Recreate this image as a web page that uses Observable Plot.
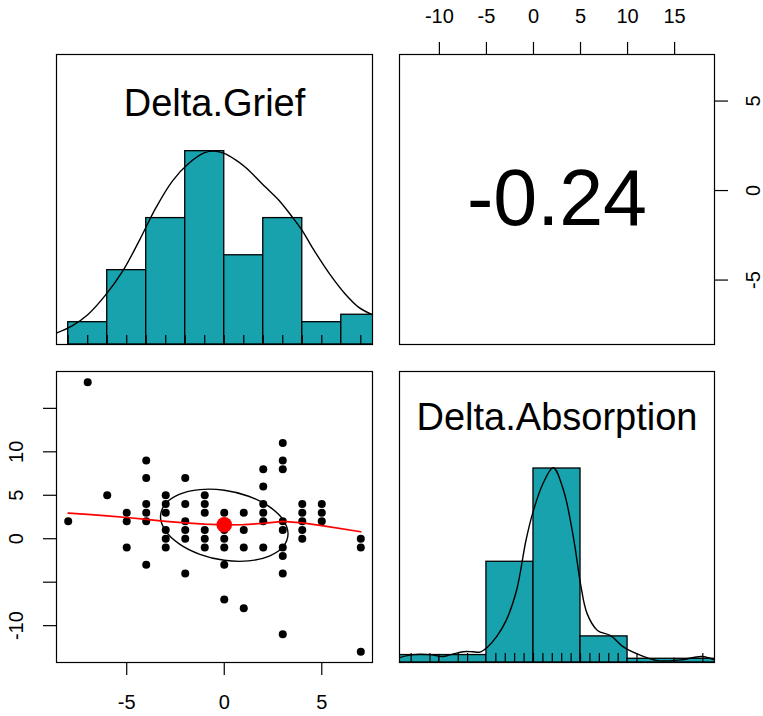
<!DOCTYPE html>
<html>
<head>
<meta charset="utf-8">
<script src="https://cdn.jsdelivr.net/npm/d3@7"></script>
<script src="https://cdn.jsdelivr.net/npm/@observablehq/plot@0.6"></script>
<style>
  html, body { margin: 0; padding: 0; background: #ffffff; }
  #chart { position: relative; width: 763px; height: 716px; overflow: hidden; background: #ffffff; }
  #chart svg { display: block; }
</style>
</head>
<body>
<div id="chart"></div>
<script>
// ---------------- data ----------------
const variables = ["Delta.Grief", "Delta.Absorption"];
const correlation = "-0.24";

// scatter (visible, distinct points): x = Delta.Grief, y = Delta.Absorption
const griefX = [
  -8, -7, -6,
  -5, -5, -5,
  -4, -4, -4, -4, -4, -4,
  -3, -3, -3, -3, -3, -3,
  -2, -2, -2, -2, -2, -2,
  -1, -1, -1, -1, -1, -1,
  0, 0, 0, 0, 0, 0,
  1, 1, 1, 1,
  2, 2, 2, 2, 2, 2,
  3, 3, 3, 3, 3, 3, 3, 3, 3,
  4, 4, 4, 4, 4,
  5, 5, 5,
  7, 7, 7
];
const absorptionY = [
  2, 18, 5,
  3, 2, -1,
  9, 7, 4, 3, 2, -3,
  5, 4, 3, 1, 0, -1,
  7, 4, 2, 1, 0, -4,
  5, 4, 3, 1, 0, -1,
  3, 1, 0, -1, -3, -7,
  3, 1, -1, -8,
  8, 6, 4, 3, 2, -1,
  11, 9, 8, 2, 1, -1, -2, -4, -11,
  4, 3, 2, 1, 0,
  4, 3, 2,
  0, -1, -13
];

// means (red dot)
const meanGrief = [0.0];
const meanAbsorption = [1.6];

// lowess smoother (red line)
const lowessX = [-8, -7, -6, -5, -4, -3, -2, -1, 0, 1, 2, 3, 4, 5, 7];
const lowessY = [2.95, 2.8, 2.62, 2.44, 2.22, 2.0, 1.82, 1.67, 1.6, 1.63, 1.76, 2.0, 1.82, 1.5, 0.8];

// correlation ellipse outline (closed)
const ellipseX = [3.27, 3.02, 2.31, 1.25, 0, -1.25, -2.31, -3.02, -3.27, -3.02, -2.31, -1.25, 0, 1.25, 2.31, 3.02];
const ellipseY = [0.55, -0.91, -2.0, -2.55, -2.48, -1.79, -0.59, 0.93, 2.55, 4.01, 5.10, 5.65, 5.58, 4.89, 3.69, 2.17];

// histograms
const griefBreaks = [-8, -6, -4, -2, 0, 2, 4, 6, 8];
const griefCounts = [3, 10, 17, 26, 12, 17, 3, 4];
const absorptionBreaks = [-15, -10, -5, 0, 5, 10, 15, 20];
const absorptionCounts = [2, 2, 27, 52, 7, 1, 1];

// density curves (in histogram count units)
const griefDensX = [-8.64, -7.8, -7.0, -6.1, -5.2, -4.35, -3.5, -2.65, -1.8, -1.0, -0.5, 0, 0.6, 1.1, 2.1, 2.8, 3.5, 4.0, 4.5, 5.4, 6.2, 6.9, 7.6];
const griefDensY = [1.5, 2.5, 4.0, 6.6, 9.9, 14.0, 18.4, 22.0, 24.4, 25.8, 26.0, 25.7, 24.8, 23.8, 21.2, 19.4, 17.1, 15.3, 13.1, 9.5, 6.8, 5.0, 4.0];
const absDensX = [-14.24, -12.8, -11.0, -9.6, -8.5, -7.5, -6.5, -5.7, -4.9, -3.9, -2.9, -1.8, -0.8, -0.1, 1.0, 2.1, 3.2, 4.3, 5.0, 5.7, 6.8, 8.2, 9.6, 11.4, 13.2, 15.6, 17.9, 19.24];
const absDensY = [1.3, 2.1, 2.1, 1.6, 2.3, 2.9, 2.9, 2.8, 4.1, 7.0, 11.3, 19.3, 32.7, 39.9, 47.9, 52.2, 46.1, 32.7, 21.1, 13.1, 8.6, 7.2, 4.1, 1.9, 0.5, 0.7, 1.6, 0.7];

// axis ticks and labels
const griefTicks = [-5, 0, 5];
const absorptionTicksTop = [-10, -5, 0, 5, 10, 15];
const absorptionTicksLeft = [-10, -5, 0, 5, 10, 15];
const absorptionLabelsLeft = [-10, 0, 5, 10];

// ---------------- build tables ----------------
const FONT = '"Liberation Sans", Arial, Helvetica, sans-serif';
const HIST = "#17a2ae";

const points = griefX.map((x, i) => ({x, y: absorptionY[i]}));
const meanPt = meanGrief.map((x, i) => ({x, y: meanAbsorption[i]}));
const lowess = lowessX.map((x, i) => ({x, y: lowessY[i]}));
const ellipse = ellipseX.map((x, i) => ({x, y: ellipseY[i]}));
const griefBins = griefCounts.map((c, i) => ({x1: griefBreaks[i], x2: griefBreaks[i + 1], count: c}));
const absBins = absorptionCounts.map((c, i) => ({x1: absorptionBreaks[i], x2: absorptionBreaks[i + 1], count: c}));
const griefDens = griefDensX.map((x, i) => ({x, y: griefDensY[i]}));
const absDens = absDensX.map((x, i) => ({x, y: absDensY[i]}));
const rugGrief = Array.from(new Set(griefX)).sort(d3.ascending);
const rugAbs = Array.from(new Set(absorptionY)).sort(d3.ascending);

function padded(values) {
  const [a, b] = d3.extent(values);
  const p = 0.04 * (b - a);
  return [a - p, b + p];
}
const griefDomain = padded(griefX);
const absDomain = padded(absorptionY);

const chart = document.getElementById("chart");
function place(svg, left, top) {
  svg.style.position = "absolute";
  svg.style.left = left + "px";
  svg.style.top = top + "px";
  chart.appendChild(svg);
}
const baseStyle = {background: "transparent", fontFamily: FONT, color: "black"};

// ---------------- top-left: Delta.Grief histogram ----------------
place(Plot.plot({
  width: 390, height: 358,
  marginTop: 54, marginLeft: 56, marginRight: 18, marginBottom: 14,
  style: baseStyle,
  x: {domain: griefDomain, axis: null},
  y: {domain: [0, 1.5 * d3.max(griefCounts)], axis: null},
  marks: [
    Plot.rectY(griefBins, {x1: "x1", x2: "x2", y: "count", fill: HIST, stroke: "black", strokeWidth: 1.3, clip: true}),
    Plot.ruleX(rugGrief, {x: d => d, insetTop: 281, stroke: "black", strokeWidth: 1.2}),
    Plot.line(griefDens, {x: "x", y: "y", curve: "catmull-rom", stroke: "black", strokeWidth: 1.4, clip: true}),
    Plot.text([variables[0]], {text: d => d, frameAnchor: "top", dy: 49.5, lineAnchor: "middle", fontSize: 38, fill: "black"}),
    Plot.frame({stroke: "black", strokeWidth: 1.2})
  ]
}), 0, 0);

// ---------------- top-right: correlation ----------------
place(Plot.plot({
  width: 373, height: 358,
  marginTop: 54, marginLeft: 9, marginRight: 49, marginBottom: 14,
  style: baseStyle,
  x: {domain: absDomain},
  y: {domain: griefDomain},
  marks: [
    Plot.axisX(absorptionTicksTop, {anchor: "top", tickSize: 13, tickFormat: () => "", label: null, stroke: "black", strokeWidth: 1.2}),
    Plot.axisY(griefTicks, {anchor: "right", tickSize: 13, tickFormat: () => "", label: null, stroke: "black", strokeWidth: 1.2}),
    Plot.text(absorptionTicksTop, {x: d => d, text: d => String(d), frameAnchor: "top", dy: -38, lineAnchor: "middle", fontSize: 20, fill: "black"}),
    Plot.text(griefTicks, {y: d => d, text: d => String(d), frameAnchor: "right", dx: 39, rotate: -90, textAnchor: "middle", lineAnchor: "middle", fontSize: 20, fill: "black"}),
    Plot.text([correlation], {text: d => d, frameAnchor: "middle", lineAnchor: "middle", fontSize: 79, fill: "black"}),
    Plot.frame({stroke: "black", strokeWidth: 1.2})
  ]
}), 390, 0);

// ---------------- bottom-left: scatter ----------------
place(Plot.plot({
  width: 390, height: 358,
  marginTop: 13, marginLeft: 56, marginRight: 18, marginBottom: 54,
  style: baseStyle,
  x: {domain: griefDomain},
  y: {domain: absDomain},
  marks: [
    Plot.axisX(griefTicks, {anchor: "bottom", tickSize: 13, tickFormat: () => "", label: null, stroke: "black", strokeWidth: 1.2}),
    Plot.axisY(absorptionTicksLeft, {anchor: "left", tickSize: 13, tickFormat: () => "", label: null, stroke: "black", strokeWidth: 1.2}),
    Plot.text(griefTicks, {x: d => d, text: d => String(d), frameAnchor: "bottom", dy: 40.5, lineAnchor: "middle", fontSize: 20, fill: "black"}),
    Plot.text(absorptionLabelsLeft, {y: d => d, text: d => String(d), frameAnchor: "left", dx: -40, rotate: -90, textAnchor: "middle", lineAnchor: "middle", fontSize: 20, fill: "black"}),
    Plot.dot(points, {x: "x", y: "y", r: 4, fill: "black"}),
    Plot.line(ellipse, {x: "x", y: "y", curve: "catmull-rom-closed", stroke: "black", strokeWidth: 1.4}),
    Plot.line(lowess, {x: "x", y: "y", stroke: "#ff0000", strokeWidth: 1.7}),
    Plot.dot(meanPt, {x: "x", y: "y", r: 7.8, fill: "#ff0000"}),
    Plot.frame({stroke: "black", strokeWidth: 1.2})
  ]
}), 0, 358);

// ---------------- bottom-right: Delta.Absorption histogram ----------------
place(Plot.plot({
  width: 373, height: 358,
  marginTop: 13, marginLeft: 9, marginRight: 49, marginBottom: 54,
  style: baseStyle,
  x: {domain: absDomain, axis: null},
  y: {domain: [0, 1.5 * d3.max(absorptionCounts)], axis: null},
  marks: [
    Plot.rectY(absBins, {x1: "x1", x2: "x2", y: "count", fill: HIST, stroke: "black", strokeWidth: 1.3, clip: true}),
    Plot.ruleX(rugAbs, {x: d => d, insetTop: 282, stroke: "black", strokeWidth: 1.2}),
    Plot.line(absDens, {x: "x", y: "y", curve: "catmull-rom", stroke: "black", strokeWidth: 1.4, clip: true}),
    Plot.text([variables[1]], {text: d => d, frameAnchor: "top", dy: 46.5, lineAnchor: "middle", fontSize: 38, fill: "black"}),
    Plot.frame({stroke: "black", strokeWidth: 1.2})
  ]
}), 390, 358);
</script>
</body>
</html>
